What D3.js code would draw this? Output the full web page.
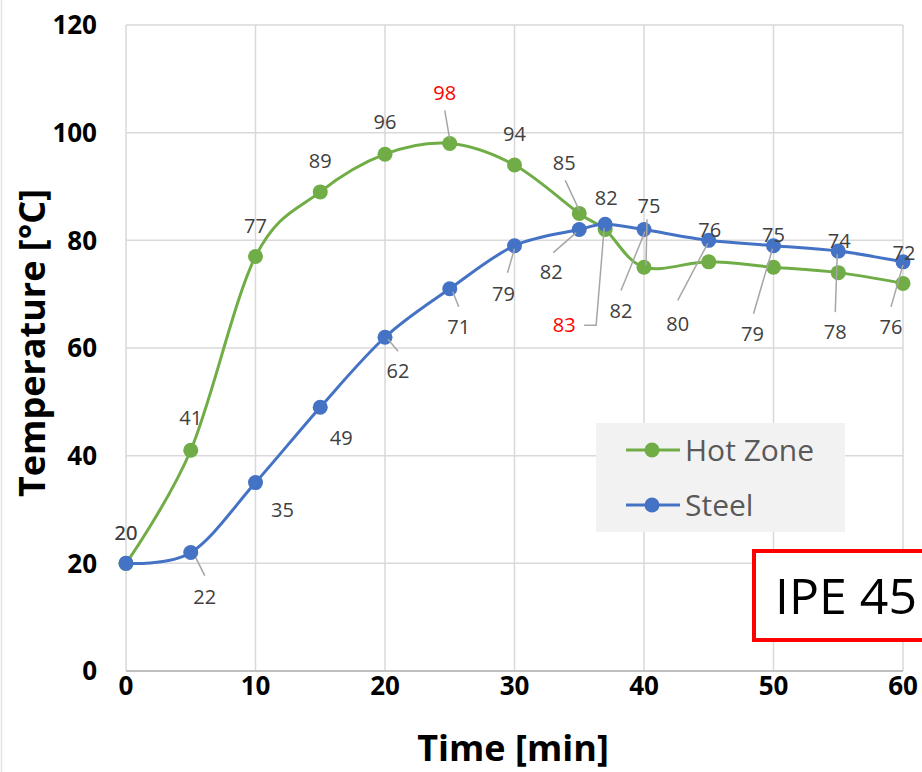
<!DOCTYPE html>
<html>
<head>
<meta charset="utf-8">
<script src="https://cdn.jsdelivr.net/npm/d3@7"></script>
<style>
  body{margin:0;background:#fff;}
  svg{display:block;font-family:"Open Sans",sans-serif;}
</style>
</head>
<body>
<div id="chart"></div>
<script>
// data
var times = [0,5,10,15,20,25,30,35,37,40,45,50,55,60];
var hotZone = [20,41,77,89,96,98,94,85,82,75,76,75,74,72];
var steel = [20,22,35,49,62,71,79,82,83,82,80,79,78,76];
var seriesNames = ["Hot Zone","Steel"];
var xTicks = [0,10,20,30,40,50,60];
var yTicks = [0,20,40,60,80,100,120];
var hotZoneRed = [25];   // labels drawn in red (by time)
var steelRed = [37];
var boxLabel = "IPE 45";

// label placement (pixel offsets from the point), leader lines as offset lists
var hzLabelPos = [
  {dx:0,dy:-31},{dx:0,dy:-32},{dx:0,dy:-31},{dx:0,dy:-31},{dx:0,dy:-32},
  {dx:-5,dy:-51,lead:[[-5,-33],[0,-4]]},
  {dx:0,dy:-31},
  {dx:-15,dy:-51,lead:[[-14,-33],[0,-3]]},
  {dx:1,dy:-32},
  {dx:5,dy:-61,lead:[[3,-48],[2,-2]]},
  {dx:1,dy:-32},{dx:0,dy:-32},{dx:1,dy:-32},{dx:1,dy:-31}
];
var stLabelPos = [
  {dx:0,dy:-31},
  {dx:14,dy:44,lead:[[14,23],[5,5]]},
  {dx:27,dy:27},
  {dx:21,dy:31},
  {dx:13,dy:34,lead:[[13,14],[3,2]]},
  {dx:9,dy:38,lead:[[9,18],[3,3]]},
  {dx:-11,dy:48,lead:[[-7,27],[0,3]]},
  {dx:-28,dy:42,lead:[[-26,23],[-3,3]]},
  {dx:-41,dy:101,lead:[[-21,101],[-9,101],[-1,4]]},
  {dx:-23,dy:81,lead:[[-23,61],[1,2]]},
  {dx:-31,dy:83,lead:[[-31,60],[-1,3]]},
  {dx:-21,dy:88,lead:[[-20,68],[-1,3]]},
  {dx:-3,dy:81,lead:[[-3,61],[-1,3]]},
  {dx:-12,dy:65,lead:[[-12,45],[0,3]]}
];

var W = 922, H = 772;
var green = "#70ad47", blue = "#4472c4";

var svg = d3.select("#chart").append("svg")
  .attr("width",W).attr("height",H);

var x = d3.scaleLinear().domain([0,60]).range([126,903]);
var y = d3.scaleLinear().domain([0,120]).range([671,25]);

// chart frame edge on the left
svg.append("line").attr("x1",1.5).attr("x2",1.5).attr("y1",0).attr("y2",H)
  .attr("stroke","#e3e3e3").attr("stroke-width",1.5);

// gridlines
svg.append("g").selectAll("line").data(yTicks).enter().append("line")
  .attr("x1",x(0)).attr("x2",x(60))
  .attr("y1",function(d){return y(d);}).attr("y2",function(d){return y(d);})
  .attr("stroke","#d9d9d9").attr("stroke-width",1.5);
svg.append("g").selectAll("line").data(xTicks).enter().append("line")
  .attr("y1",y(0)).attr("y2",y(120))
  .attr("x1",function(d){return x(d);}).attr("x2",function(d){return x(d);})
  .attr("stroke","#d9d9d9").attr("stroke-width",1.5);
svg.append("line").attr("x1",x(0)).attr("x2",x(60)).attr("y1",y(0)).attr("y2",y(0))
  .attr("stroke","#bfbfbf").attr("stroke-width",2);

// tick labels
svg.append("g").selectAll("text").data(yTicks).enter().append("text")
  .attr("x",97).attr("y",function(d){return y(d);}).attr("dy","0.36em")
  .attr("text-anchor","end").attr("font-size",26).attr("font-weight","bold")
  .text(function(d){return d;});
svg.append("g").selectAll("text").data(xTicks).enter().append("text")
  .attr("x",function(d){return x(d);}).attr("y",686).attr("dy","0.36em")
  .attr("text-anchor","middle").attr("font-size",26).attr("font-weight","bold")
  .text(function(d){return d;});

// axis titles
svg.append("text").attr("transform","translate(45,343) rotate(-90)")
  .attr("text-anchor","middle").attr("font-size",36).attr("font-weight","bold")
  .text("Temperature [°C]");
svg.append("text").attr("x",513).attr("y",761)
  .attr("text-anchor","middle").attr("font-size",36).attr("font-weight","bold")
  .text("Time [min]");

var line = d3.line()
  .x(function(d){return x(d[0]);})
  .y(function(d){return y(d[1]);})
  .curve(d3.curveCardinal.tension(0));

var series = [
  {name:seriesNames[0],color:green,values:times.map(function(t,i){return [t,hotZone[i]];}),pos:hzLabelPos,red:hotZoneRed},
  {name:seriesNames[1],color:blue,values:times.map(function(t,i){return [t,steel[i]];}),pos:stLabelPos,red:steelRed}
];

series.forEach(function(s){
  svg.append("path").datum(s.values)
    .attr("d",line).attr("fill","none")
    .attr("stroke",s.color).attr("stroke-width",3);
  svg.append("g").selectAll("circle").data(s.values).enter().append("circle")
    .attr("cx",function(d){return x(d[0]);})
    .attr("cy",function(d){return y(d[1]);})
    .attr("r",7.5).attr("fill",s.color);
});

// data labels and leader lines
series.forEach(function(s){
  var g = svg.append("g");
  s.values.forEach(function(d,i){
    var p = s.pos[i];
    var px = x(d[0]), py = y(d[1]);
    if(p.lead){
      g.append("polyline")
        .attr("points",p.lead.map(function(o){return (px+o[0])+","+(py+o[1]);}).join(" "))
        .attr("fill","none").attr("stroke","#a6a6a6").attr("stroke-width",1.5);
    }
    g.append("text")
      .attr("x",px+p.dx).attr("y",py+p.dy).attr("dy","0.36em")
      .attr("text-anchor","middle").attr("font-size",20)
      .attr("fill",s.red.indexOf(d[0])>=0 ? "#ff0000" : "#404040")
      .text(d[1]);
  });
});

// legend
var legend = svg.append("g");
legend.append("rect").attr("x",596).attr("y",423).attr("width",249).attr("height",109)
  .attr("fill","#f2f2f2");
series.forEach(function(s,i){
  var ly = 450 + i*55;
  legend.append("line").attr("x1",626).attr("x2",680).attr("y1",ly).attr("y2",ly)
    .attr("stroke",s.color).attr("stroke-width",3);
  legend.append("circle").attr("cx",652).attr("cy",ly).attr("r",7.5).attr("fill",s.color);
  legend.append("text").attr("x",685).attr("y",ly).attr("dy","0.36em")
    .attr("font-size",30).attr("fill","#595959").text(s.name);
});

// red framed note
svg.append("rect").attr("x",754).attr("y",551).attr("width",200).attr("height",89)
  .attr("fill","#fff").attr("stroke","#ff0000").attr("stroke-width",4);
svg.append("text").attr("x",775).attr("y",614)
  .attr("font-size",50).attr("fill","#000").text(boxLabel);
</script>
</body>
</html>
